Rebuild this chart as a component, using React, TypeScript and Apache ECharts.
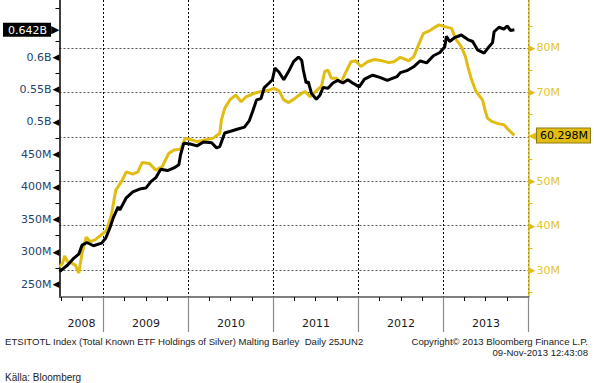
import React, { useEffect, useRef } from 'react';
import * as echarts from 'echarts';

// ETF silver holdings (left axis, millions of oz)
const etfDates = [
  '2008-06-25','2008-07-29','2008-08-26','2008-09-16','2008-09-30','2008-10-21','2008-11-18','2008-12-23',
  '2009-01-10','2009-01-27','2009-02-11','2009-03-04','2009-03-11','2009-04-08','2009-05-06','2009-06-10',
  '2009-07-01','2009-07-23','2009-08-13','2009-09-03','2009-10-02','2009-10-30','2009-11-20','2009-11-27',
  '2009-12-11','2010-01-08','2010-02-06','2010-03-06','2010-04-10','2010-05-01','2010-05-15','2010-06-05',
  '2010-07-04','2010-08-01','2010-08-29','2010-09-19','2010-10-03','2010-10-20','2010-11-08','2010-11-22',
  '2010-12-13','2010-12-27','2011-01-07','2011-01-24','2011-02-14','2011-03-07','2011-03-28','2011-04-18',
  '2011-05-02','2011-05-09','2011-05-21','2011-05-30','2011-06-13','2011-07-04','2011-07-19','2011-08-02',
  '2011-08-23','2011-09-13','2011-10-04','2011-10-26','2011-11-16','2011-12-07','2012-01-04','2012-01-27',
  '2012-03-02','2012-03-30','2012-05-04','2012-05-25','2012-06-15','2012-06-29','2012-07-27','2012-08-25',
  '2012-09-22','2012-10-20','2012-11-18','2012-12-16','2013-01-06','2013-01-13','2013-01-27','2013-02-17',
  '2013-03-18','2013-04-15','2013-05-06','2013-05-27','2013-06-24','2013-07-15','2013-07-30','2013-08-06',
  '2013-08-27','2013-09-17','2013-10-01','2013-10-15','2013-11-01'
];
const etfValues = [
  269, 279, 290, 296, 310, 314, 309, 313,
  321, 336, 352, 369, 364, 383, 392, 397,
  398, 408, 414, 427, 425, 429, 434, 449,
  467, 466, 463, 469, 468, 460, 462, 483,
  486, 489, 492, 502, 516, 534, 536, 553,
  560, 565, 583, 577, 565, 578, 593, 600,
  595, 580, 560, 562, 544, 535, 541, 553,
  552, 560, 564, 560, 565, 560, 554, 566,
  572, 569, 564, 567, 570, 576, 579, 585,
  594, 591, 602, 607, 616, 632, 624, 630,
  634, 627, 624, 611, 606, 616, 622, 639,
  646, 643, 648, 641, 642
];

// Malting barley (right axis)
const barleyDates = [
  '2008-06-25','2008-07-08','2008-07-17','2008-07-29','2008-08-19','2008-09-01','2008-09-16','2008-09-30',
  '2008-10-18','2008-11-04','2008-11-25','2008-12-16','2009-01-13','2009-02-03','2009-02-22','2009-03-18',
  '2009-04-08','2009-05-06','2009-05-28','2009-06-15','2009-07-16','2009-08-13','2009-09-10','2009-10-08',
  '2009-10-30','2009-11-27','2009-12-18','2010-01-08','2010-02-06','2010-03-20','2010-04-17','2010-05-15',
  '2010-05-22','2010-06-05','2010-06-27','2010-07-22','2010-08-15','2010-09-05','2010-10-10','2010-11-08',
  '2010-12-13','2011-01-03','2011-01-24','2011-02-14','2011-03-07','2011-04-04','2011-05-02','2011-05-16',
  '2011-06-07','2011-07-04','2011-07-26','2011-08-09','2011-08-23','2011-09-06','2011-09-27','2011-10-18',
  '2011-11-09','2011-11-30','2011-12-21','2012-01-11','2012-02-09','2012-03-09','2012-04-13','2012-05-11',
  '2012-06-01','2012-06-29','2012-07-27','2012-08-03','2012-08-25','2012-09-15','2012-10-06','2012-11-03',
  '2012-11-25','2012-12-13','2013-01-06','2013-02-04','2013-02-22','2013-03-18','2013-04-05','2013-04-15',
  '2013-04-29','2013-05-20','2013-06-01','2013-06-17','2013-06-28','2013-07-08','2013-07-29','2013-08-27',
  '2013-09-17','2013-10-08','2013-11-01'
];
const barleyValues = [
  30.7, 31.5, 33.2, 31.9, 31.5, 31.1, 29.3, 33.8,
  37.4, 36.4, 36.8, 37.7, 38.9, 42.4, 48.0, 49.9,
  52.1, 51.6, 52.1, 54.2, 54.0, 52.5, 53.3, 56.3,
  57.0, 57.2, 59.7, 59.4, 58.9, 59.4, 59.7, 60.8,
  63.8, 66.4, 68.3, 69.4, 67.9, 69.0, 69.8, 70.2,
  70.5, 70.9, 70.4, 68.3, 67.7, 68.7, 69.8, 70.2,
  69.0, 70.4, 71.4, 74.7, 75.0, 73.2, 73.2, 72.2,
  74.7, 76.9, 77.1, 75.8, 76.9, 77.4, 77.1, 76.7,
  76.9, 77.9, 77.3, 77.1, 78.0, 80.7, 83.3, 83.9,
  84.7, 85.2, 84.8, 84.4, 82.0, 80.3, 78.0, 75.8,
  73.2, 70.2, 69.4, 68.3, 66.0, 64.2, 63.4, 62.9,
  62.7, 61.5, 60.298
];

const leftLabelValues = [250, 300, 350, 400, 450, 500, 550, 600];
const leftMinorTicks = [275, 325, 375, 425, 475, 525, 575, 625, 675];
const rightGridValues = [30, 40, 50, 60, 70, 80];
const rightMinorTicks = [25, 35, 45, 55, 65, 75, 85];
const yearStarts = ['2009-01-01', '2010-01-01', '2011-01-01', '2012-01-01', '2013-01-01', '2014-01-01'];
const yearLabelDates = ['2008-09-28', '2009-07-02', '2010-07-02', '2011-07-02', '2012-07-02', '2013-07-02'];
const quarterTicks = [
  '2008-07-01', '2008-10-01',
  '2009-04-01', '2009-07-01', '2009-10-01',
  '2010-04-01', '2010-07-01', '2010-10-01',
  '2011-04-01', '2011-07-01', '2011-10-01',
  '2012-04-01', '2012-07-01', '2012-10-01',
  '2013-04-01', '2013-07-01', '2013-10-01'
];

const ts = (s: string) => {
  const [y, m, d] = s.split('-').map(Number);
  return new Date(y, m - 1, d).getTime();
};

const YELLOW = '#e1bd14';
const FONT = 'DejaVu Sans';
const FOOT = '9.6px "Liberation Sans"';

export default function App() {
  const ref = useRef<HTMLDivElement>(null);
  useEffect(() => {
    if (!ref.current) return;
    const chart = echarts.init(ref.current, undefined, { renderer: 'svg' });
    const lastEtf = etfValues[etfValues.length - 1];
    const lastBarley = barleyValues[barleyValues.length - 1];
    const xMin = ts('2008-06-25');
    const xMax = ts('2014-01-01');
    const yLMin = 230, yLMax = 688;
    const yRMin = 23.92, yRMax = 90.8;

    // labels hidden behind the last-value tags, as in the reference
    const leftLabels = leftLabelValues.filter((v) => Math.abs(v - lastEtf) > 15);
    const rightLabels = rightGridValues.filter((v) => Math.abs(v - lastBarley) > 3);

    const leftFmt = (v: number) => {
      if (Math.abs(v - lastEtf) < 1e-9) return `{tag|${(v / 1000).toFixed(3)}B}{tagArrow|▶}`;
      const s = v >= 500 ? `${v / 1000}B` : `${v}M`;
      return `{lbl|${s}}{tri|◀}`;
    };
    const rightFmt = (v: number) => {
      if (Math.abs(v - lastBarley) < 1e-9) return `{tagArrow|◀}{tag|${v.toFixed(3)}M}`;
      return `{tri|▶}{lbl|${v}M}`;
    };

    chart.setOption({
      animation: false,
      backgroundColor: '#ffffff',
      textStyle: { fontFamily: FONT },
      grid: { left: 57, right: 62, top: 0, bottom: 86, containLabel: false },
      xAxis: [
        {
          type: 'value', min: xMin, max: xMax, position: 'bottom',
          axisLine: { show: true, lineStyle: { color: '#555', width: 1.5 } },
          axisTick: { show: true, customValues: quarterTicks.map(ts), length: 4, lineStyle: { color: '#000', width: 1 } },
          axisLabel: {
            show: true, customValues: yearLabelDates.map(ts), margin: 21,
            formatter: (v: number) => String(new Date(v).getFullYear()),
            color: '#1a1a1a', fontSize: 11, fontFamily: FONT
          },
          splitLine: { show: false }
        },
        {
          type: 'value', min: xMin, max: xMax, position: 'bottom',
          axisLine: { show: false },
          axisTick: { show: true, customValues: yearStarts.map(ts), length: 35, lineStyle: { color: '#8a8a8a', width: 1.2 } },
          axisLabel: { show: false },
          splitLine: { show: true, lineStyle: { color: '#000', width: 1, type: [2, 2] } }
        }
      ],
      yAxis: [
        {
          type: 'value', position: 'left', min: yLMin, max: yLMax,
          axisLine: { show: true, lineStyle: { color: '#000', width: 1.5 } },
          axisTick: { show: true, customValues: leftMinorTicks, length: 4, lineStyle: { color: '#000' } },
          axisLabel: {
            show: true, customValues: [...leftLabels, lastEtf], margin: 0, formatter: leftFmt,
            rich: {
              lbl: { color: '#27436b', fontSize: 11, fontFamily: FONT },
              tri: { color: '#000', fontSize: 9, fontFamily: FONT, padding: [0, 0, 0, 1] },
              tag: { color: '#fff', backgroundColor: '#000', fontSize: 11, fontFamily: FONT, padding: [2, 4, 1, 5] },
              tagArrow: { color: '#000', fontSize: 11, fontFamily: FONT }
            }
          },
          splitLine: { show: false }
        },
        {
          type: 'value', position: 'right', min: yRMin, max: yRMax,
          axisLine: { show: true, lineStyle: { color: YELLOW, width: 1.5 } },
          axisTick: { show: false, customValues: rightGridValues },
          axisLabel: {
            show: true, customValues: [...rightLabels, lastBarley], margin: 0, formatter: rightFmt,
            rich: {
              lbl: { color: '#e3c42c', fontSize: 11, fontFamily: FONT },
              tri: { color: YELLOW, fontSize: 9, fontFamily: FONT, padding: [0, 1, 0, 0] },
              tag: { color: '#000', backgroundColor: YELLOW, borderColor: '#8c7a12', borderWidth: 1, fontSize: 11, fontFamily: FONT, padding: [2, 2, 1, 3] },
              tagArrow: { color: YELLOW, fontSize: 11, fontFamily: FONT }
            }
          },
          splitLine: { show: true, lineStyle: { color: '#555', width: 1, type: [2, 2] } }
        },
        {
          type: 'value', position: 'right', min: yRMin, max: yRMax,
          axisLine: { show: false },
          axisTick: { show: true, customValues: rightMinorTicks, length: 4, lineStyle: { color: YELLOW } },
          axisLabel: { show: false },
          splitLine: { show: false }
        }
      ],
      series: [
        {
          name: 'Malting Barley', type: 'line', xAxisIndex: 0, yAxisIndex: 1, z: 3,
          data: barleyDates.map((d, i) => [ts(d), barleyValues[i]]),
          showSymbol: false, symbol: 'none',
          lineStyle: { color: YELLOW, width: 3 }
        },
        {
          name: 'ETSITOTL Index', type: 'line', xAxisIndex: 0, yAxisIndex: 0, z: 4,
          data: etfDates.map((d, i) => [ts(d), etfValues[i]]),
          showSymbol: false, symbol: 'none',
          lineStyle: { color: '#000', width: 3 }
        }
      ],
      graphic: [
        { type: 'text', x: 5, y: 341, style: { text: 'ETSITOTL Index (Total Known ETF Holdings of Silver) Malting Barley  Daily 25JUN2', fill: '#1a1a1a', font: FOOT, align: 'left', verticalAlign: 'middle' } },
        { type: 'text', x: 588, y: 341, style: { text: 'Copyright© 2013 Bloomberg Finance L.P.', fill: '#1a1a1a', font: FOOT, align: 'right', verticalAlign: 'middle' } },
        { type: 'text', x: 588, y: 352, style: { text: '09-Nov-2013 12:43:08', fill: '#1a1a1a', font: FOOT, align: 'right', verticalAlign: 'middle' } },
        { type: 'text', x: 5, y: 377, style: { text: 'Källa: Bloomberg', fill: '#222', font: '10px "Liberation Sans"', align: 'left', verticalAlign: 'middle' } }
      ]
    });
    return () => chart.dispose();
  }, []);
  return (
    <div
      ref={ref}
      style={{ position: 'fixed', left: 0, top: 0, width: 594, height: 383, background: '#fff' }}
    />
  );
}
